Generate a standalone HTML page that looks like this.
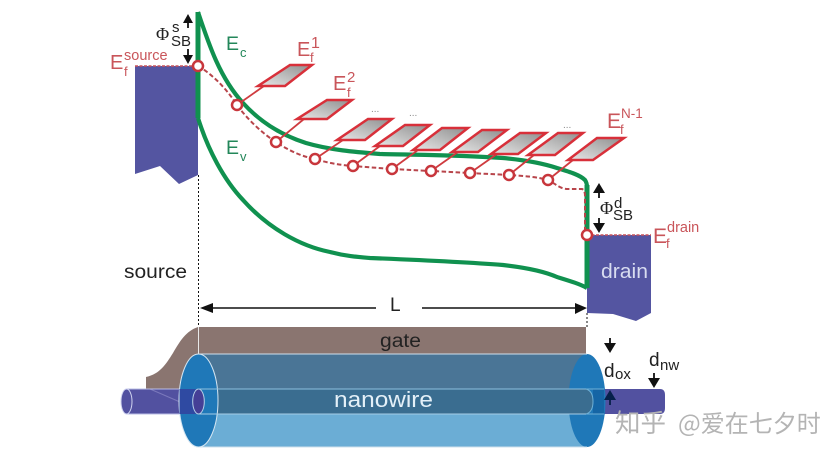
<!DOCTYPE html>
<html>
<head>
<meta charset="utf-8">
<style>
html,body{margin:0;padding:0;background:#fff;width:840px;height:456px;overflow:hidden}
svg{display:block}
text{font-family:"Liberation Sans","Noto Sans CJK SC",sans-serif}
</style>
</head>
<body>
<svg width="840" height="456" viewBox="0 0 840 456" xmlns="http://www.w3.org/2000/svg">
<defs>
<linearGradient id="g" x1="0" y1="1" x2="1" y2="0">
<stop offset="0" stop-color="#e8e8e8"/><stop offset="1" stop-color="#8f8f8f"/>
</linearGradient>
</defs>
<rect width="840" height="456" fill="#fff"/>

<!-- source / drain -->
<polygon points="135,66 198,66 198,175 179,184 160,166 135,174" fill="#5455a1"/>
<polygon points="587,235 651,235 651,313 636,321 613,314 587,313" fill="#5455a1"/>
<line x1="135" y1="66" x2="198" y2="66" stroke="#c8535a" stroke-width="1.500" stroke-dasharray="3 1.500"/>
<line x1="587" y1="235" x2="651" y2="235" stroke="#c8535a" stroke-width="1.500" stroke-dasharray="3 1.500"/>

<!-- dotted guides -->
<line x1="198.500" y1="175" x2="198.500" y2="327" stroke="#111" stroke-width="1" stroke-dasharray="2 2"/>
<line x1="587" y1="313" x2="587" y2="327" stroke="#111" stroke-width="1" stroke-dasharray="2 2"/>

<!-- gate -->
<path d="M198,327 H586 V360 H198 V389 H146 V377 C160,374 166,364 173,353 C180,341 186,331 198,327 Z" fill="#8a7570"/>
<line x1="198.500" y1="327" x2="198.500" y2="354" stroke="#e8e8e8" stroke-width="1"/>

<!-- left wire -->
<rect x="126" y="389" width="76" height="25" fill="#5251a0"/>
<line x1="150" y1="389" x2="180" y2="402" stroke="#7a78bb" stroke-width="1"/>
<line x1="126" y1="389" x2="180" y2="389" stroke="#b9bde6" stroke-width="1"/>
<line x1="126" y1="414" x2="180" y2="414" stroke="#b9bde6" stroke-width="1"/>
<ellipse cx="126.500" cy="401.500" rx="5.500" ry="12.500" fill="#5251a0" stroke="#d0d4f0" stroke-width="1"/>

<!-- right wire -->
<path d="M600,389 H660 Q665,389 665,395 V408 Q665,414 660,414 H600 Z" fill="#5251a0"/>

<!-- cylinder body -->
<rect x="198" y="354" width="388" height="35" fill="#4a7596"/>
<rect x="198" y="389" width="388" height="25" fill="#3a6d90"/>
<rect x="198" y="414" width="388" height="33" fill="#6badd5"/>

<!-- right ellipse -->
<ellipse cx="587" cy="400.500" rx="18.500" ry="46.500" fill="#1f78b8"/>
<rect x="593" y="389" width="11" height="25" fill="#1565a5"/>
<path d="M560,389 H586 Q593,391 593,401.500 Q593,412 586,414 H560 Z" fill="#3a6d90"/>
<path d="M586,389 Q593,391 593,401.500 Q593,412 586,414" fill="none" stroke="#6fb0d6" stroke-width="1"/>
<line x1="586" y1="389" x2="604" y2="389" stroke="#6fb0d6" stroke-width="1"/>
<line x1="586" y1="414" x2="604" y2="414" stroke="#6fb0d6" stroke-width="1"/>
<line x1="198" y1="354" x2="587" y2="354" stroke="#cfe0ec" stroke-width="1"/>
<line x1="198" y1="447" x2="587" y2="447" stroke="#cfe0ec" stroke-width="1"/>

<!-- left ellipse -->
<ellipse cx="198.500" cy="400.500" rx="19.500" ry="46.500" fill="#1f78b8" stroke="#d5e6f2" stroke-width="1"/>
<rect x="179.500" y="389" width="19" height="25" fill="#2f4aa2"/>
<ellipse cx="198.500" cy="401.500" rx="5.800" ry="12.500" fill="#453f96" stroke="#b5cfe6" stroke-width="1"/>
<line x1="198" y1="389" x2="586" y2="389" stroke="#8cc0de" stroke-width="1"/>
<line x1="198" y1="414" x2="586" y2="414" stroke="#a5cde6" stroke-width="1"/>

<!-- bands -->
<path d="M198,12 C209,45 220,78 243,103 C262,124 284,136 306,143 C330,150 355,152 380,154 C420,155 460,155 503,158 C525,160 545,164 557,168 C570,172 580,175 585,180 Q587,183 587,187" fill="none" stroke="#10914f" stroke-width="4.200"/>
<path d="M198,118 C208,150 224,180 243,200 C268,228 300,246 330,252 C345,256 358,257 370,258 C420,260 465,262 503,265 C530,268 548,273 557,277 C570,281 580,284 587,288" fill="none" stroke="#10914f" stroke-width="4.200"/>
<line x1="198" y1="12" x2="198" y2="118" stroke="#10914f" stroke-width="5"/>
<line x1="587" y1="185" x2="587" y2="288" stroke="#10914f" stroke-width="5"/>

<!-- red dashed potential -->
<path d="M198,66 C212,74 226,88 237,105 C248,120 262,133 276,142 C288,150 300,156 315,159 C328,163 340,165 353,166 L392,169 L431,171 L470,173 L509,175 C525,176 538,177 548,180 C556,184 560,189 568,189 L582,189 Q585,190 585,196 L585,235" fill="none" stroke="#b8454b" stroke-width="2" stroke-dasharray="4.500 2.500"/>

<!-- connectors -->
<g stroke="#cf3b3f" stroke-width="1.800" fill="none">
<line x1="237" y1="105" x2="264" y2="86"/>
<line x1="276" y1="142" x2="304" y2="119"/>
<line x1="315" y1="159" x2="343" y2="140"/>
<line x1="353" y1="166" x2="380" y2="146"/>
<line x1="392" y1="169" x2="418" y2="150"/>
<line x1="431" y1="171" x2="458" y2="152"/>
<line x1="470" y1="173" x2="497" y2="154"/>
<line x1="509" y1="175" x2="534" y2="155"/>
<line x1="548" y1="180" x2="573" y2="160"/>
</g>

<!-- parallelograms -->
<g fill="url(#g)" stroke="#d8303a" stroke-width="2.500" stroke-linejoin="miter">
<polygon points="290,65 312,65 285,86 258,86"/>
<polygon points="327,100 352,100 327,119 297,119"/>
<polygon points="368,119 392,119 365,140 337,140"/>
<polygon points="405,125 430,125 403,146 375,146"/>
<polygon points="442,128 468,128 440,150 413,150"/>
<polygon points="482,130 507,130 478,152 452,152"/>
<polygon points="520,133 546,133 518,154 491,154"/>
<polygon points="558,133 583,133 555,155 528,155"/>
<polygon points="597,138 624,138 593,160 568,160"/>
</g>

<!-- circles -->
<g fill="#fff" stroke="#c8363c" stroke-width="2.500">
<circle cx="198" cy="66" r="5"/>
<circle cx="237" cy="105" r="5"/>
<circle cx="276" cy="142" r="5"/>
<circle cx="315" cy="159" r="5"/>
<circle cx="353" cy="166" r="5"/>
<circle cx="392" cy="169" r="5"/>
<circle cx="431" cy="171" r="5"/>
<circle cx="470" cy="173" r="5"/>
<circle cx="509" cy="175" r="5"/>
<circle cx="548" cy="180" r="5"/>
<circle cx="587" cy="235" r="5"/>
</g>

<!-- arrows -->
<g stroke="#111" stroke-width="1.800" fill="#111">
<line x1="188" y1="18" x2="188" y2="28"/><polygon points="188,14 183,23 193,23" stroke="none"/>
<line x1="188" y1="49" x2="188" y2="58"/><polygon points="188,64 183,55 193,55" stroke="none"/>
<line x1="599" y1="188" x2="599" y2="198"/><polygon points="599,183 593,193 605,193" stroke="none"/>
<line x1="599" y1="218" x2="599" y2="227"/><polygon points="599,233 593,223 605,223" stroke="none"/>
<!-- L arrow -->
<line x1="203" y1="308" x2="376" y2="308" stroke-width="1.500"/><polygon points="200,308 213,303 213,313" stroke="none"/>
<line x1="422" y1="308" x2="582" y2="308" stroke-width="1.500"/><polygon points="587,308 575,303 575,314" stroke="none"/>
<!-- dox -->
<line x1="610" y1="338" x2="610" y2="346"/><polygon points="610,353 604,343 616,343" stroke="none"/>
<line x1="610" y1="396" x2="610" y2="405" stroke="#06204a"/><polygon points="610,390 604,400 616,400" fill="#06204a" stroke="none"/>
<!-- dnw -->
<line x1="654" y1="373" x2="654" y2="382"/><polygon points="654,388 648,378 660,378" stroke="none"/>
</g>

<!-- labels -->
<g fill="#c9555a">
<text x="110" y="69" font-size="20">E</text>
<text x="124" y="76" font-size="13">f</text>
<text x="124" y="60" font-size="14.500">source</text>
<text x="297" y="56" font-size="20">E</text>
<text x="310" y="62" font-size="13">f</text>
<text x="311" y="48" font-size="16">1</text>
<text x="333" y="90" font-size="20">E</text>
<text x="347" y="97" font-size="13">f</text>
<text x="347" y="82" font-size="15">2</text>
<text x="607" y="128" font-size="21">E</text>
<text x="620" y="134" font-size="13">f</text>
<text x="621" y="118" font-size="13.500">N-1</text>
<text x="653" y="243" font-size="21">E</text>
<text x="666" y="248" font-size="13">f</text>
<text x="667" y="232" font-size="14.500">drain</text>
</g>
<g fill="#23875a">
<text x="226" y="50" font-size="19.500">E</text>
<text x="240" y="57" font-size="13">c</text>
<text x="226" y="154" font-size="19.500">E</text>
<text x="240" y="161" font-size="13">v</text>
</g>
<g fill="#8a8a8a" font-size="10">
<text x="371" y="112">...</text>
<text x="409" y="116">...</text>
<text x="563" y="128">...</text>
</g>
<g fill="#222">
<text x="156" y="40" font-size="18" style="font-family:'Liberation Serif',serif">Φ</text>
<text x="172" y="32" font-size="15">s</text>
<text x="171" y="46" font-size="15">SB</text>
<text x="600" y="214" font-size="18" style="font-family:'Liberation Serif',serif">Φ</text>
<text x="614" y="208" font-size="15">d</text>
<text x="613" y="220" font-size="15">SB</text>
<text x="124" y="278" font-size="19" textLength="63" lengthAdjust="spacingAndGlyphs">source</text>
<text x="390" y="311" font-size="19">L</text>
<text x="380" y="347" font-size="19" textLength="41" lengthAdjust="spacingAndGlyphs">gate</text>
<text x="604" y="377" font-size="19">d</text>
<text x="615" y="379" font-size="15">ox</text>
<text x="649" y="366" font-size="19">d</text>
<text x="660" y="370" font-size="15">nw</text>
</g>
<text x="601" y="278" font-size="20" fill="#d8dcf0" textLength="47" lengthAdjust="spacingAndGlyphs">drain</text>
<text x="334" y="407" font-size="22" fill="#e4f0f8" textLength="99" lengthAdjust="spacingAndGlyphs">nanowire</text>

<!-- watermark -->
<text x="615" y="432" font-size="25.500" fill="#b4b4b4" style="font-family:'Noto Sans CJK SC',sans-serif">知乎</text>
<text x="678" y="432" font-size="24" fill="#b4b4b4" style="font-family:'Noto Sans CJK SC',sans-serif">@爱在七夕时</text>
</svg>
</body>
</html>
